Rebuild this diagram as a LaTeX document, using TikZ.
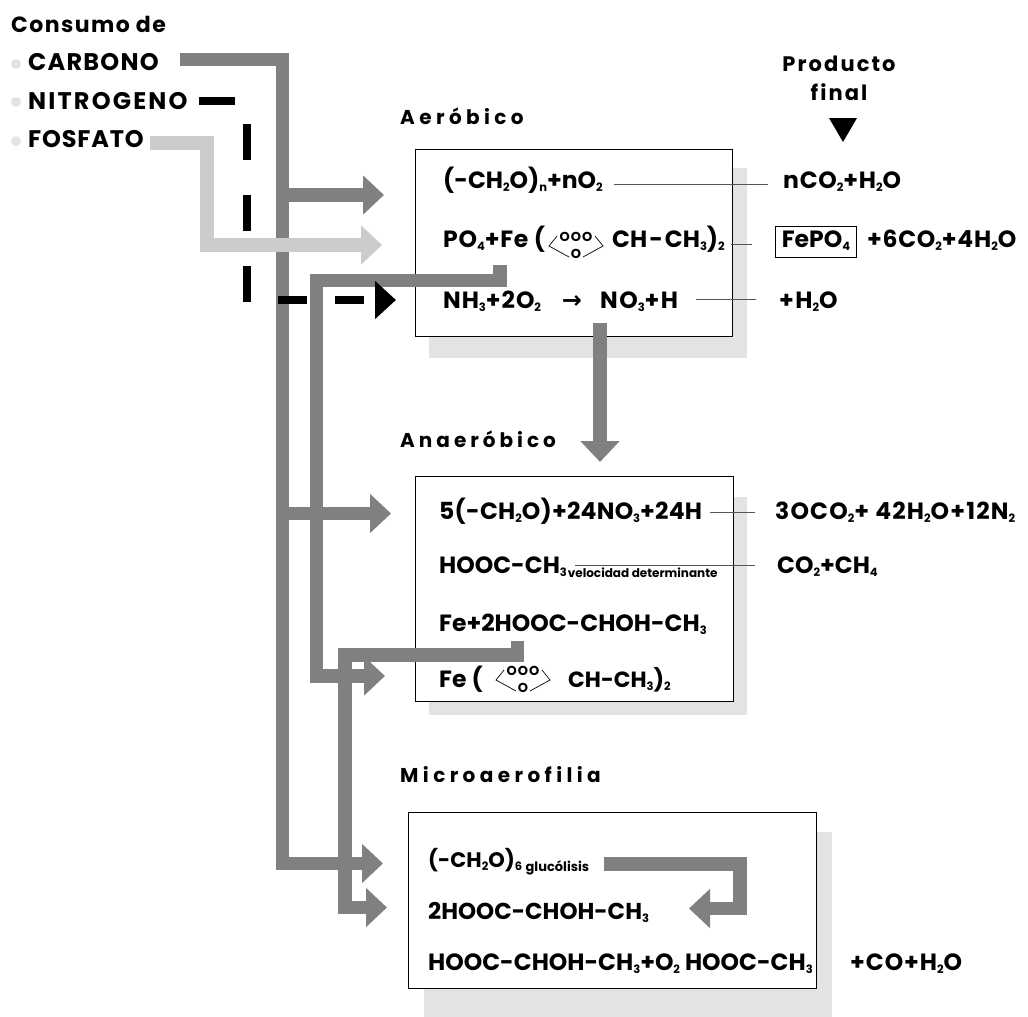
\documentclass[tikz,border=0pt]{standalone}
\usepackage{fontspec}
\setmainfont{Poppins}[BoldFont={Poppins Bold}]
\newfontfamily\arrowfont{DejaVu Sans}
\usepackage{xcolor}
\usepackage{tikz}
\usetikzlibrary{arrows.meta, calc}
\definecolor{carbongray}{HTML}{808080}
\definecolor{phosgray}{HTML}{CCCCCC}
\definecolor{shadegray}{HTML}{E3E3E3}
\definecolor{linegray}{HTML}{555555}
\newcommand{\sub}[1]{\raisebox{-3pt}{\fontsize{11.5}{11.5}\selectfont #1}}
\newcommand{\smalltail}[2]{\raisebox{-4pt}{\fontsize{#1}{#1}\selectfont #2}}
\newcommand{\spaced}[2]{\addfontfeature{LetterSpace=#1}#2}

\begin{document}
\begin{tikzpicture}[
        x=1pt, y=-1pt,
        title/.style={anchor=base west, inner sep=0pt, font=\fontsize{20}{20}\bfseries},
        source/.style={anchor=base west, inner sep=0pt, font=\fontsize{24}{24}\bfseries},
        formula/.style={anchor=base west, inner sep=0pt, font=\fontsize{23.5}{23.5}\bfseries},
        bullet/.style={circle, fill=shadegray, minimum size=10pt, inner sep=0pt},
        chambox/.style={draw=black, fill=white, line width=0.8pt},
        shade/.style={fill=shadegray},
        flow/.style={draw=carbongray, line width=13.5pt, -{Triangle[length=21pt, width=38pt]}, line join=miter},
        phosflow/.style={flow, draw=phosgray},
        nitroflow/.style={draw=black, line width=8pt},
        reacline/.style={draw=linegray, line width=0.9pt},
        ringmark/.pic={
            \node[inner sep=0pt, font=\fontsize{13}{13}\bfseries] (top) at (0,-9) {O\hspace{1pt}O\hspace{1pt}O};
            \node[inner sep=0pt, font=\fontsize{13}{13}\bfseries] (low) at (0,7.5) {O};
            \draw[line width=0.7pt] (-19,-10) -- (-27,0) -- (-7,11);
            \draw[line width=0.7pt] (19,-10) -- (27,0) -- (7,11);
        }
    ]
    \useasboundingbox (0,0) rectangle (1028,1017);

    % left list
    \node (consumo) [title, font=\fontsize{22}{22}\bfseries] at (11,32) {\spaced{6.5}{Consumo de}};
    \node (carbono) [source] at (28,70) {\spaced{5}{CARBONO}};
    \node (nitro) [source] at (28,109) {\spaced{9}{NITROGENO}};
    \node (fosfato) [source] at (28,147) {\spaced{3.5}{FOSFATO}};
    \node (bulc) [bullet] at (16,64) {};
    \node (buln) [bullet] at (16,102) {};
    \node (bulf) [bullet] at (16,141) {};

    % chambers
    \fill[shade] (429,168) rectangle (747,358);
    \node (aero) [chambox, minimum width=317pt, minimum height=187pt, anchor=north west] at (415,149) {};
    \fill[shade] (429,497) rectangle (747,715);
    \node (anaero) [chambox, minimum width=318pt, minimum height=225pt, anchor=north west] at (415,476) {};
    \fill[shade] (424,832) rectangle (832,1017);
    \node (micro) [chambox, minimum width=408pt, minimum height=176pt, anchor=north west] at (408,812) {};

    \node (taero) [title] at (400,124) {\spaced{22}{Aeróbico}};
    \node (tanaero) [title] at (400,447) {\spaced{20}{Anaeróbico}};
    \node (tmicro) [title] at (400,782) {\spaced{22}{Microaerofilia}};
    \node (tprod) [title, anchor=base, font=\fontsize{21}{21}\bfseries] at (839,71) {\spaced{10}{Producto}};
    \node (tfinal) [title, anchor=base, font=\fontsize{21}{21}\bfseries] at (839,100) {\spaced{10}{final}};
    \fill (829,118) -- (857,118) -- (843,142) -- cycle;

    % aerobico
    \node (ra) [formula] at (443,188) {(-CH\sub{2}O)\sub{n}+nO\sub{2}};
    \node (pa) [formula] at (783,188) {\spaced{3}{nCO\sub{2}+H\sub{2}O}};
    \node (rb) [formula] at (443,247) {\spaced{3}{PO\sub{4}+Fe (}};
    \pic at (576,246) {ringmark};
    \node (rbb) [formula] at (612,247) {CH\hspace{2pt}-\hspace{2pt}CH\sub{3})\sub{2}};
    \node (pb) [formula, draw=black, line width=0.7pt, inner xsep=6.5pt, inner ysep=3pt, text height=18pt, text depth=7pt] at (775,247) {FePO\sub{4}};
    \node (pbb) [formula] at (867,247) {\spaced{3}{+6CO\sub{2}+4H\sub{2}O}};
    \node (rc) [formula] at (443,308) {\spaced{4}{NH\sub{3}+2O\sub{2}}};
    \node (rcarrow) [formula, font=\arrowfont\bfseries\fontsize{24}{24}\selectfont, anchor=base] at (572,308) {→};
    \node (rcc) [formula] at (600,308) {\spaced{6}{NO\sub{3}+H}};
    \node (pc) [formula] at (779,308) {\spaced{6}{+H\sub{2}O}};

    % anaerobico
    \node (rd) [formula] at (439,519) {\spaced{1}{5(-CH\sub{2}O)+24NO\sub{3}+24H}};
    \node (pd) [formula] at (775,519) {\spaced{5}{3OCO\sub{2}+ 42H\sub{2}O+12N\sub{2}}};
    \node (re) [formula] at (439,573) {HOOC-CH\sub{3}\hspace{1pt}\smalltail{12}{velocidad determinante}};
    \node (pe) [formula] at (777,573) {CO\sub{2}+CH\sub{4}};
    \node (rf) [formula] at (439,631) {Fe+2HOOC-CHOH-CH\sub{3}};
    \node (rg) [formula] at (439,687) {Fe (};
    \pic at (523,680) {ringmark};
    \node (rgg) [formula, font=\fontsize{22}{22}\bfseries] at (568,687) {CH-CH\sub{3})\sub{2}};

    % microaerofilia
    \node (rh) [formula, font=\fontsize{21}{21}\bfseries] at (428,867) {(-CH\sub{2}O)\sub{6}\,\smalltail{13}{glucólisis}};
    \node (ri) [formula, font=\fontsize{23}{23}\bfseries] at (428,919) {2HOOC-CHOH-CH\sub{3}};
    \node (rj) [formula] at (428,970) {HOOC-CHOH-CH\sub{3}+O\sub{2} HOOC-CH\sub{3}};
    \node (pj) [formula] at (850,970) {\spaced{4}{+CO+H\sub{2}O}};

    % product lines
    \draw[reacline] ([xshift=11pt,yshift=4pt]ra.base east) -- ([xshift=-15pt,yshift=4pt]pa.base west);
    \draw[reacline] ([xshift=6pt,yshift=3pt]rbb.base east) -- ([xshift=-23pt,yshift=3pt]pb.base west);
    \draw[reacline] ([xshift=18pt,yshift=9pt]rcc.base east) -- ([xshift=-23pt,yshift=9pt]pc.base west);
    \draw[reacline] ([xshift=8pt,yshift=7pt]rd.base east) -- ([xshift=-20pt,yshift=7pt]pd.base west);
    \coordinate (vstart) at ($(re.base west)+(136,-8)$);
    \draw[reacline] (vstart) -- ([xshift=-22pt,yshift=8pt]pe.base west);

    % flows
    \coordinate (cout) at (180,59.5);
    \coordinate (ccorner) at (282.5,59.5);
    \coordinate (cup) at (282.5,195);
    \coordinate (cmid) at (282.5,513.5);
    \coordinate (aeroin) at (384,195);
    \coordinate (anaeroin) at (391,513.5);
    \coordinate (microin) at (383,863.5);
    \draw[flow] (cup) -- (aeroin);
    \draw[flow] (cmid) -- (anaeroin);
    \draw[flow] (cout) -- (ccorner) |- (microin);

    \coordinate (fromfe) at (500,265);
    \coordinate (fekink) at (316.5,280.5);
    \coordinate (fein) at (385,676);
    \draw[flow] (fromfe) |- (fekink) |- (fein);
    \coordinate (fromlac) at (517.5,641);
    \coordinate (lackink) at (345,655);
    \coordinate (lacin) at (387,907.5);
    \draw[flow] (fromlac) |- (lackink) |- (lacin);

    \coordinate (nout) at (600,323);
    \coordinate (nin) at (600,462);
    \draw[flow] (nout) -- (nin);
    \coordinate (glout) at (604,864);
    \coordinate (glkink) at (740,864);
    \coordinate (glin) at (689,908.5);
    \draw[flow] (glout) -- (glkink) |- (glin);

    \coordinate (pout) at (150,143);
    \coordinate (pkink) at (207,143);
    \coordinate (pin) at (382,245);
    \draw[phosflow] (pout) -- (pkink) |- (pin);

    \coordinate (nitout) at (199,101);
    \coordinate (nitkink) at (247,101);
    \coordinate (nitdown) at (247,303);
    \coordinate (nitback) at (278,300);
    \coordinate (nitin) at (396,300);
    \draw[nitroflow, dash pattern=on 36pt off 35pt] (nitout) -- (nitkink) -- (nitdown);
    \draw[nitroflow, dash pattern=on 29pt off 28pt, -{Triangle[length=21pt, width=37pt]}] (nitback) -- (nitin);
\end{tikzpicture}
\end{document}
